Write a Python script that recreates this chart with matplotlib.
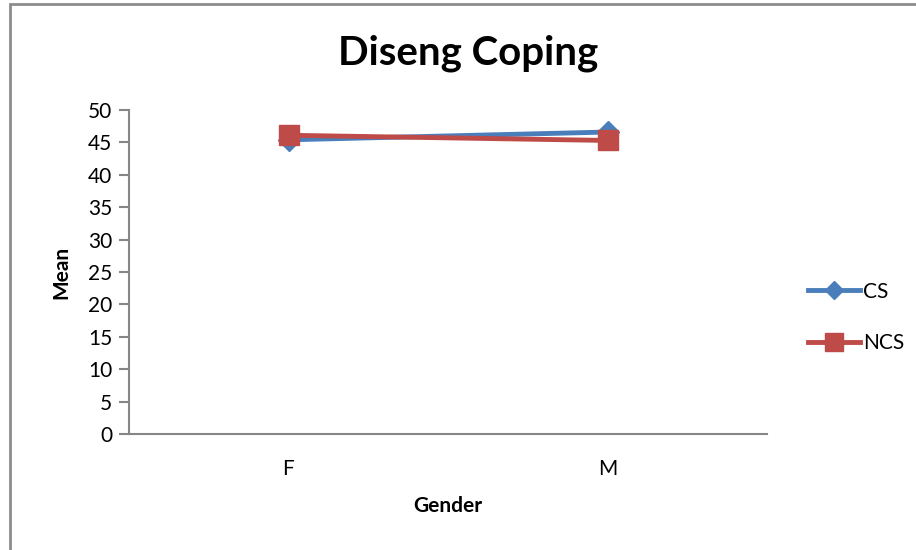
import matplotlib.pyplot as plt
from matplotlib.patches import Rectangle

# --- data ---
categories = ["F", "M"]
cs_values = [45.4, 46.6]
ncs_values = [46.1, 45.3]
y_ticks = list(range(0, 55, 5))

BLUE = "#4A7EBB"
RED = "#BE4B48"
AXIS_GREY = "#868686"

plt.rcParams["font.family"] = ["Lato", "DejaVu Sans"]

fig = plt.figure(figsize=(9.16, 5.5), dpi=100)
fig.patch.set_facecolor("white")

# outer chart frame (runs off the right and bottom edges)
fig.add_artist(Rectangle((10 / 916, -0.05), 1.0, 1 - 4 / 550 + 0.05,
                         transform=fig.transFigure, fill=False,
                         edgecolor="#8c8c8c", linewidth=2.0))

ax = fig.add_axes([129 / 916, 1 - 434 / 550, (767 - 129) / 916, (434 - 110) / 550])

x = [0, 1]
ax.plot(x, cs_values, color=BLUE, linewidth=3.5, marker="D", markersize=11,
        label="CS", zorder=3)
ax.plot(x, ncs_values, color=RED, linewidth=3.5, marker="s", markersize=15,
        label="NCS", zorder=4)

ax.set_xlim(-0.5, 1.5)
ax.set_ylim(0, 50)
ax.set_yticks(y_ticks)
ax.set_xticks(x)
ax.set_xticklabels(categories)

for side in ["top", "right"]:
    ax.spines[side].set_visible(False)
for side in ["left", "bottom"]:
    ax.spines[side].set_color(AXIS_GREY)
    ax.spines[side].set_linewidth(1.5)

ax.tick_params(axis="y", direction="out", length=7, width=1.5, color=AXIS_GREY,
               labelsize=15, pad=5)
ax.tick_params(axis="x", length=0, labelsize=15, pad=18)

# title is centred on the whole chart area, not on the plot
fig.text(468 / 916, 1 - 53 / 550, "Diseng Coping", fontsize=29,
         fontweight="bold", ha="center", va="center")
ax.set_ylabel("Mean", fontsize=15, fontweight="bold", labelpad=12)
ax.set_xlabel("Gender", fontsize=15, fontweight="bold", labelpad=12)

leg = ax.legend(loc="center left", bbox_to_anchor=(1.035, 0.36), frameon=False,
                fontsize=15, handlelength=2.5, labelspacing=1.5,
                handletextpad=0.15, markerscale=0.85)

fig.savefig("out.png", dpi=100, facecolor="white")
